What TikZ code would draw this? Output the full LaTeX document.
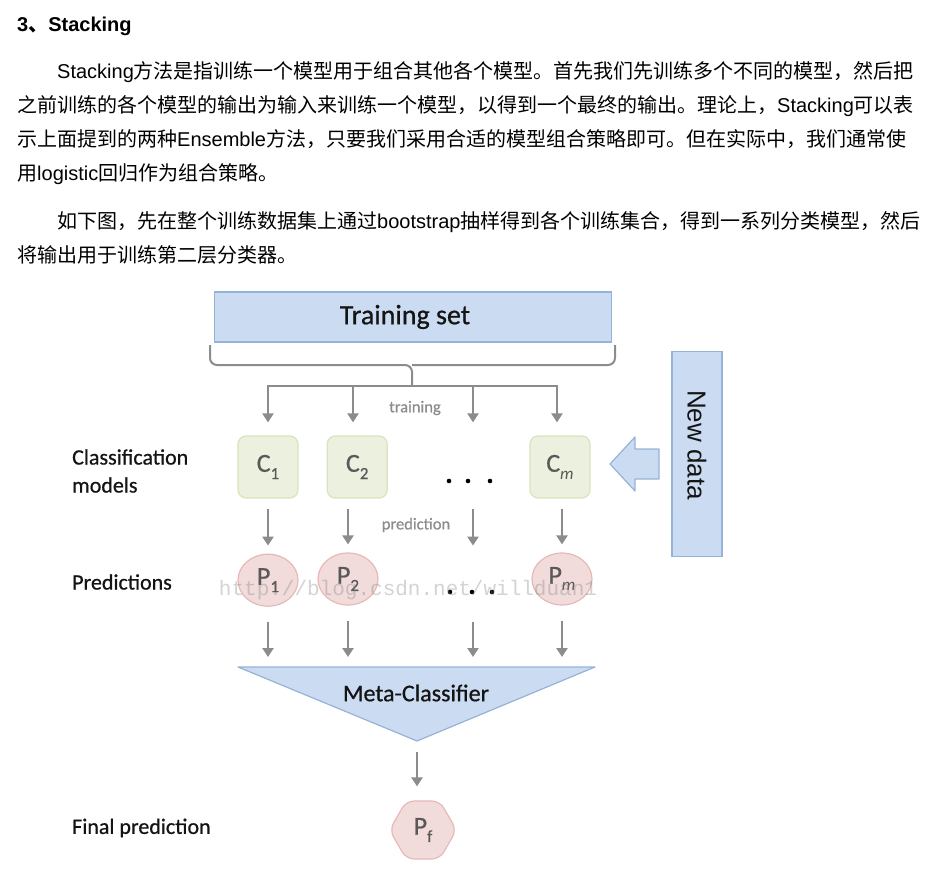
\documentclass[tikz,border=0pt]{standalone}
\usepackage{fontspec}
\setmainfont{Liberation Sans}
\newfontfamily\cjk{Noto Sans CJK SC}
\newfontfamily\calibri{Carlito}[UprightFeatures={FakeBold=0.7}]
\newfontfamily\wmfont{Liberation Mono}
\usetikzlibrary{arrows.meta, positioning, shapes.geometric}
\definecolor{stBlueFill}{RGB}{203,220,242}
\definecolor{stBlueLine}{RGB}{149,179,215}
\definecolor{stGreenFill}{RGB}{235,241,222}
\definecolor{stGreenLine}{RGB}{215,228,189}
\definecolor{stPinkFill}{RGB}{242,220,219}
\definecolor{stPinkLine}{RGB}{230,185,184}
\definecolor{stArrow}{RGB}{140,140,140}
\definecolor{stLabel}{RGB}{89,89,89}
\definecolor{stText}{RGB}{20,20,20}
\newcommand{\zh}[1]{{\cjk #1}}
\newcommand{\idx}[1]{\raisebox{-0.28em}{\fontsize{17}{17}\selectfont #1}}

\begin{document}
\begin{tikzpicture}[
    x=1pt, y=-1pt,
    para/.style={anchor=base west, inner sep=0pt, font=\fontsize{20}{24}\selectfont},
    trainbox/.style={draw=stBlueLine, fill=stBlueFill, line width=1.2pt,
      minimum width=397pt, minimum height=50pt, text=stText, font=\calibri\fontsize{28}{30}\selectfont},
    model/.style={draw=stGreenLine, fill=stGreenFill, rounded corners=8pt, line width=1.2pt,
      minimum width=60pt, minimum height=62pt, inner sep=0pt, text=stLabel, font=\calibri\fontsize{26}{28}\selectfont},
    pred/.style={model, ellipse, draw=stPinkLine, fill=stPinkFill, minimum height=52pt},
    final/.style={pred, regular polygon, regular polygon sides=6, minimum size=67pt},
    newdata/.style={draw=stBlueLine, fill=stBlueFill, line width=1.2pt, rotate=-90,
      minimum width=205pt, minimum height=50pt, text=stText, font=\fontsize{26}{28}\selectfont},
    rowlabel/.style={anchor=west, align=left, inner sep=0pt, text=stText, font=\calibri\fontsize{22}{28}\selectfont},
    flowlabel/.style={inner sep=0pt, text=stArrow, font=\calibri\fontsize{16.5}{18}\selectfont},
    arr/.style={-{Triangle[length=9pt,width=11pt]}, line width=2.4pt, draw=stArrow},
    fork/.style={line width=2.4pt, draw=stArrow, line cap=rect},
    brace/.style={line width=2pt, draw=stArrow, rounded corners=7pt}
  ]
    \useasboundingbox (0,0) rectangle (935,872);

    % text above the figure
    \node[para, font=\bfseries\fontsize{20}{24}\selectfont] (title) at (17,32) {3\zh{、}Stacking};
    \node[para] (l1) at (57,79) {Stacking\zh{方法是指训练一个模型用于组合其他各个模型。首先我们先训练多个不同的模型，然后把}};
    \node[para] (l2) at (17,113) {\zh{之前训练的各个模型的输出为输入来训练一个模型，以得到一个最终的输出。理论上，}Stacking\zh{可以表}};
    \node[para] (l3) at (17,147) {\zh{示上面提到的两种}Ensemble\zh{方法，只要我们采用合适的模型组合策略即可。但在实际中，我们通常使}};
    \node[para] (l4) at (17,181) {\zh{用}logistic\zh{回归作为组合策略。}};
    \node[para] (l5) at (57,228) {\zh{如下图，先在整个训练数据集上通过}bootstrap\zh{抽样得到各个训练集合，得到一系列分类模型，然后}};
    \node[para] (l6) at (17,262) {\zh{将输出用于训练第二层分类器。}};

    % training set and brace
    \node[trainbox] (train) at (413,317) {Training set\hspace*{16pt}};
    \draw[brace] (210,345) -- (210,365) -- (412,365) -- (412,386);
    \draw[brace] (615,345) -- (615,365) -- (412,365);
    \coordinate (f1) at (268,386);
    \coordinate (f2) at (353,386);
    \coordinate (f3) at (473,386);
    \coordinate (f4) at (557,386);
    \draw[fork] (f1) -- (f4);
    \node[flowlabel] (lbltrain) at (415,408) {training};

    % classification models
    \node[model] (C1) at (268,467) {C\idx{1}};
    \node[model, right=28pt of C1] (C2) {C\idx{2}};
    \node[model] (Cm) at (560,467) {C\idx{\textit{m}}};
    \foreach \x in {449,468,490} \fill (\x,481) circle (2.3pt);
    \foreach \f/\c in {f1/C1, f2/C2, f3/C1, f4/Cm}
      \draw[arr, shorten >=13pt] (\f) -- (\f |- \c.north);

    % predictions
    \node[pred, below=55pt of C1] (P1) {P\idx{1}};
    \node[pred] (P2) at (348,579) {P\idx{2}};
    \node[pred] (Pm) at (562,579) {P\idx{\textit{m}}};
    \foreach \x in {450,472,492} \fill (\x,592) circle (2.3pt);
    \node[flowlabel] (lblpred) at (416,525) {prediction};
    \draw[arr, shorten <=10pt, shorten >=8pt] (C1) -- (P1);
    \draw[arr, shorten <=10pt, shorten >=8pt] (P2 |- C2.south) -- (P2);
    \draw[arr, shorten <=10pt, shorten >=8pt] (f3 |- C1.south) -- (f3 |- P1.north);
    \draw[arr, shorten <=10pt, shorten >=8pt] (Pm |- Cm.south) -- (Pm);

    % meta-classifier
    \coordinate (mL) at (238,667);
    \coordinate (mR) at (595,667);
    \coordinate (mA) at (417,741);
    \draw[draw=stBlueLine, fill=stBlueFill, line width=1.2pt, line join=round] (mL) -- (mR) -- (mA) -- cycle;
    \node[inner sep=0pt, text=stText, font=\calibri\fontsize{24}{26}\selectfont] (meta) at (416,693) {Meta-Classifier};
    \foreach \p in {P1, P2, Pm}
      \draw[arr, shorten <=15pt, shorten >=10pt] (\p) -- (\p |- mL);
    \draw[arr, shorten <=15pt, shorten >=10pt] (f3 |- P1.south) -- (f3 |- mL);

    % final prediction
    \node[final] (Pf) at (423,830) {P\idx{f}};
    \draw[arr, shorten <=11pt, shorten >=14pt] (mA) -- (mA |- Pf.north);

    % new data
    \node[newdata] (newd) at (697,454) {New data\hspace*{18pt}};
    \draw[draw=stBlueLine, fill=stBlueFill, line width=1.2pt, line join=round]
      (610,464) -- (635,437) -- (635,449) -- (659,449) -- (659,479) -- (635,479) -- (635,491) -- cycle;

    % row labels
    \node[rowlabel] (lblcls) at (72,471) {Classification\\models};
    \node[rowlabel] (lblpreds) at (72,582) {Predictions};
    \node[rowlabel] (lblfinal) at (72,828) {Final prediction};

    % watermark
    \node[inner sep=0pt, text=gray, text opacity=0.35, font=\wmfont\fontsize{21}{22}\selectfont] (wmark) at (408,590) {http://blog.csdn.net/willduan1};
  \end{tikzpicture}
\end{document}
